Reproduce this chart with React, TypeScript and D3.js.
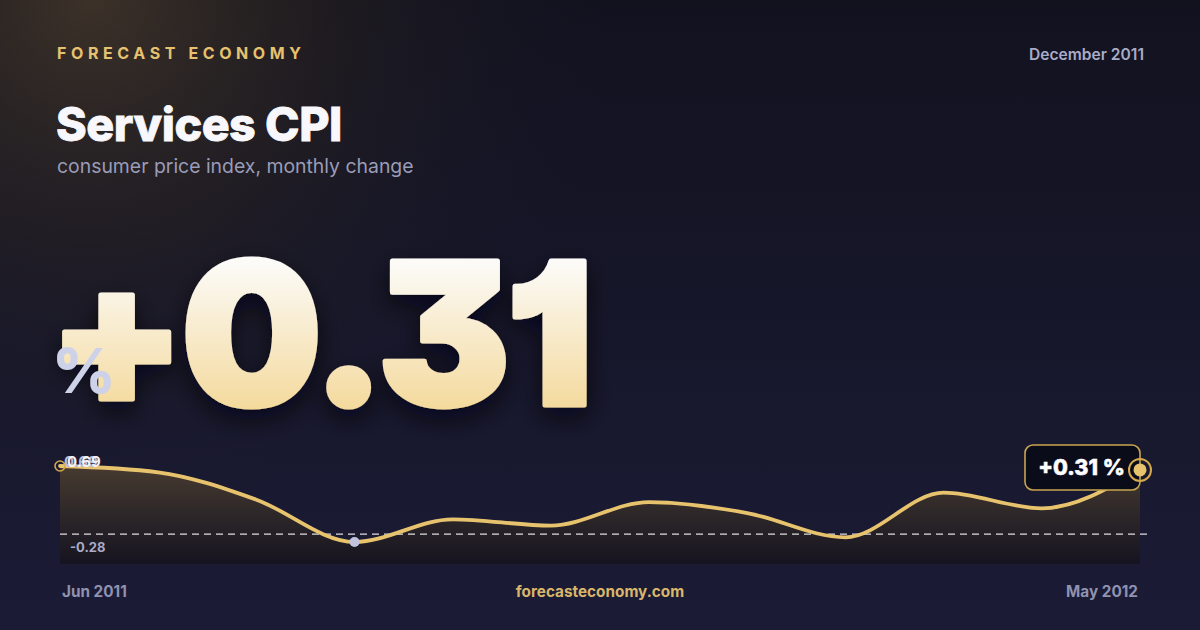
import React from "react";
import * as d3 from "d3";

const months = ["Jun 2011","Jul 2011","Aug 2011","Sep 2011","Oct 2011","Nov 2011","Dec 2011","Jan 2012","Feb 2012","Mar 2012","Apr 2012","May 2012"];
const values = [0.69, 0.61, 0.26, -0.28, 0.01, -0.07, 0.23, 0.09, -0.22, 0.35, 0.15, 0.64];
const yTicks = [0.69, -0.28];
const refValue = -0.18;
const headline = "+0.31";
const title = "Services CPI";
const subtitle = "consumer price index, monthly change";
const brand = "FORECAST ECONOMY";
const dateLabel = "December 2011";
const site = "forecasteconomy.com";

const W = 1200, H = 630;
const FONT = "Inter, 'Noto Sans', sans-serif";

export default function App() {
  const x = d3.scalePoint<string>().domain(months).range([60, 1140]);
  const y = d3.scaleLinear().domain([-0.28, 0.69]).range([542, 466]);
  const bottom = 564;
  const pts: [number, number][] = values.map((v, i) => [x(months[i]) as number, y(v)]);
  const line = d3.line<[number, number]>().x(d => d[0]).y(d => d[1]).curve(d3.curveMonotoneX);
  const area = d3.area<[number, number]>().x(d => d[0]).y0(bottom).y1(d => d[1]).curve(d3.curveMonotoneX);
  const minI = values.indexOf(d3.min(values) as number);
  const last = pts[pts.length - 1];
  const first = pts[0];

  return (
    <svg width={W} height={H} viewBox={`0 0 ${W} ${H}`} style={{ position: "fixed", left: 0, top: 0, display: "block" }}>
      <defs>
        <linearGradient id="bg" x1="0" y1="0" x2="0" y2="1">
          <stop offset="0" stopColor="#12121f" />
          <stop offset="1" stopColor="#1b1b36" />
        </linearGradient>
        <radialGradient id="glow" cx="90" cy="0" r="520" gradientUnits="userSpaceOnUse">
          <stop offset="0" stopColor="#4a3c2c" stopOpacity="0.75" />
          <stop offset="0.5" stopColor="#30281f" stopOpacity="0.35" />
          <stop offset="1" stopColor="#1a1a2a" stopOpacity="0" />
        </radialGradient>
        <linearGradient id="num" x1="0" y1="262" x2="0" y2="407" gradientUnits="userSpaceOnUse">
          <stop offset="0" stopColor="#fcfbf8" />
          <stop offset="1" stopColor="#f4da9e" />
        </linearGradient>
        <linearGradient id="areaG" x1="0" y1="466" x2="0" y2={bottom} gradientUnits="userSpaceOnUse">
          <stop offset="0" stopColor="#4a3d30" stopOpacity="0.95" />
          <stop offset="0.6" stopColor="#2a2426" stopOpacity="0.9" />
          <stop offset="1" stopColor="#15131f" stopOpacity="0.95" />
        </linearGradient>
        <filter id="shadow" x="-20%" y="-20%" width="140%" height="160%">
          <feDropShadow dx="0" dy="10" stdDeviation="12" floodColor="#05050c" floodOpacity="0.7" />
        </filter>
      </defs>
      <rect width={W} height={H} fill="url(#bg)" />
      <rect width={W} height={H} fill="url(#glow)" />

      <text x={57} y={59} fill="#e6c170" fontFamily={FONT} fontSize={16} fontWeight={700} letterSpacing={4.6}>{brand}</text>
      <text x={1144} y={60} textAnchor="end" fill="#a9abc8" fontFamily={FONT} fontSize={15.6} fontWeight={600}>{dateLabel}</text>
      <text x={56} y={141} fill="#f8f8fc" fontFamily={FONT} fontSize={46.6} fontWeight={800} letterSpacing={-0.5}
        stroke="#f8f8fc" strokeWidth={0.8}>{title}</text>
      <text x={57} y={173} fill="#9a9cb8" fontFamily={FONT} fontSize={19.4} fontWeight={400}>{subtitle}</text>

      <text x={48} y={405} fill="url(#num)" stroke="url(#num)" strokeWidth={5} strokeLinejoin="round"
        fontFamily={FONT} fontSize={198} fontWeight={900} letterSpacing={-4}
        style={{ fontFeatureSettings: '"cv01", "cv09"' }} filter="url(#shadow)">{headline}</text>
      <text x={52} y={393} fill="#cdd2e8" fontFamily={FONT} fontSize={62} fontWeight={800}>%</text>

      <path d={area(pts) as string} fill="url(#areaG)" />
      <line x1={60} x2={1147} y1={y(refValue)} y2={y(refValue)} stroke="#ffffff" strokeOpacity={0.85} strokeWidth={1.3} strokeDasharray="7 5" />
      <path d={line(pts) as string} fill="none" stroke="#e8c36e" strokeWidth={3.8} strokeLinejoin="round" strokeLinecap="round" />

      <circle cx={first[0]} cy={first[1]} r={5} fill="none" stroke="#d4a94a" strokeWidth={1.6} />
      <text x={64} y={467} fill="#b8bcd8" fontFamily={FONT} fontSize={15} fontWeight={700}>{yTicks[0].toFixed(2)}</text>
      <text x={67} y={467} fill="#f2f2f8" fontFamily={FONT} fontSize={15} fontWeight={700}>{yTicks[0].toFixed(2)}</text>
      <text x={70} y={552} fill="#a9abc8" fontFamily={FONT} fontSize={13} fontWeight={700}>{yTicks[1].toFixed(2)}</text>
      <circle cx={pts[minI][0]} cy={pts[minI][1]} r={5} fill="#c0c4dc" />

      <rect x={1025} y={445} width={115} height={45} rx={8} fill="#0b0c1a" stroke="#c9a54f" strokeWidth={1.6} />
      <text x={1081.5} y={474.5} textAnchor="middle" fill="#ffffff" stroke="#ffffff" strokeWidth={0.5} fontFamily={FONT} fontSize={21.5} fontWeight={800}>{headline} %</text>
      <circle cx={last[0]} cy={last[1]} r={11} fill="none" stroke="#d4a94a" strokeWidth={2} />
      <circle cx={last[0]} cy={last[1]} r={6.5} fill="#e8c36e" />

      <text x={62} y={597} fill="#8f92b0" fontFamily={FONT} fontSize={15.3} fontWeight={700}>{months[0]}</text>
      <text x={600} y={597} textAnchor="middle" fill="#d9b66a" fontFamily={FONT} fontSize={15.3} fontWeight={700}>{site}</text>
      <text x={1138} y={597} textAnchor="end" fill="#8f92b0" fontFamily={FONT} fontSize={15.3} fontWeight={700}>{months[months.length - 1]}</text>
    </svg>
  );
}
